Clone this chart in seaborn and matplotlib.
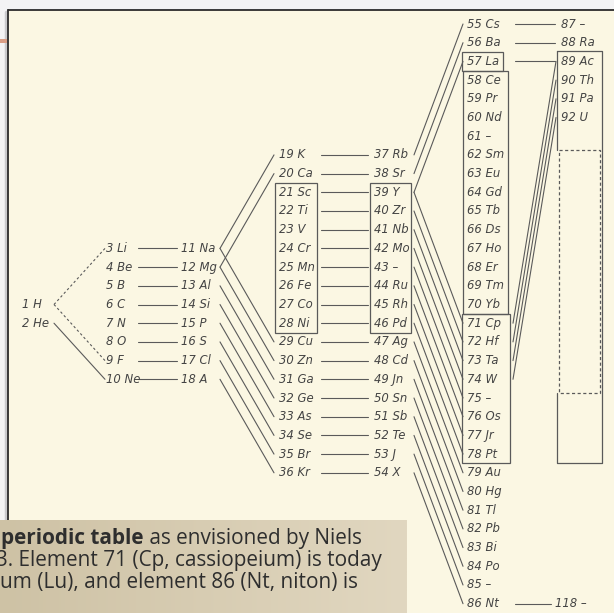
import numpy as np
import pandas as pd
import matplotlib
matplotlib.use("Agg")
import matplotlib.pyplot as plt
import seaborn as sns
from matplotlib.patches import Rectangle

# ---------------- data ----------------
col0 = ["1 H", "2 He"]
col1 = ["3 Li", "4 Be", "5 B", "6 C", "7 N", "8 O", "9 F", "10 Ne"]
col2 = ["11 Na", "12 Mg", "13 Al", "14 Si", "15 P", "16 S", "17 Cl", "18 A"]
col3 = ["19 K", "20 Ca", "21 Sc", "22 Ti", "23 V", "24 Cr", "25 Mn", "26 Fe", "27 Co",
        "28 Ni", "29 Cu", "30 Zn", "31 Ga", "32 Ge", "33 As", "34 Se", "35 Br", "36 Kr"]
col4 = ["37 Rb", "38 Sr", "39 Y", "40 Zr", "41 Nb", "42 Mo", "43 –", "44 Ru", "45 Rh",
        "46 Pd", "47 Ag", "48 Cd", "49 Jn", "50 Sn", "51 Sb", "52 Te", "53 J", "54 X"]
col5 = ["55 Cs", "56 Ba", "57 La", "58 Ce", "59 Pr", "60 Nd", "61 –", "62 Sm", "63 Eu",
        "64 Gd", "65 Tb", "66 Ds", "67 Ho", "68 Er", "69 Tm", "70 Yb", "71 Cp", "72 Hf",
        "73 Ta", "74 W", "75 –", "76 Os", "77 Jr", "78 Pt", "79 Au", "80 Hg", "81 Tl",
        "82 Pb", "83 Bi", "84 Po", "85 –", "86 Nt"]
col6 = ["87 –", "88 Ra", "89 Ac", "90 Th", "91 Pa", "92 U"]
extra_label = "118 –"

dashed_links = [(1, 3), (1, 9)]
solid_links = ([(2, 10)] + [(z, z + 8) for z in range(3, 11)]
               + [(11, 19), (12, 20), (11, 29), (12, 30)] + [(z, z + 18) for z in range(13, 19)]
               + [(z, z + 18) for z in range(19, 37)]
               + [(37, 55), (38, 56), (39, 57), (39, 71)] + [(z, z + 32) for z in range(40, 55)]
               + [(55, 87), (56, 88), (57, 89), (86, 118)]
               + [(89, 71), (90, 72), (91, 73), (92, 74)])

caption_bold = "periodic table"
caption_line1 = " as envisioned by Niels"
caption_line2 = "3. Element 71 (Cp, cassiopeium) is today"
caption_line3 = "um (Lu), and element 86 (Nt, niton) is"

# ---------------- layout ----------------
W, H = 614, 613
columns = [col0, col1, col2, col3, col4, col5, col6]
start_rows = [15, 12, 12, 7, 7, 0, 0]
col_x = [22, 106, 181, 279, 374, 467, 561]
Y0, DY = 24.0, 18.7


def row_y(r):
    return Y0 + DY * r


pos = {}
labels = {}
for c, (lst, r0) in enumerate(zip(columns, start_rows)):
    for i, lab in enumerate(lst):
        z = int(lab.split()[0])
        pos[z] = (c, r0 + i)
        labels[z] = lab
pos[118] = (6, 31)
labels[118] = extra_label

gap_x = {(0, 1): (54, 105), (1, 2): (138, 177), (2, 3): (220, 274), (3, 4): (321, 368),
         (4, 5): (414, 463), (5, 6): (515, 555), (6, 5): (556, 513)}


def seg_frame(links):
    rows = []
    for k, (a, b) in enumerate(links):
        ca, ra = pos[a]
        cb, rb = pos[b]
        x1, x2 = gap_x[(ca, cb)]
        if b == 118:
            x2 = 551
        rows.append({"seg": k, "x": x1, "y": row_y(ra)})
        rows.append({"seg": k, "x": x2, "y": row_y(rb)})
    return pd.DataFrame(rows)


sns.set_theme(style="white")
fig = plt.figure(figsize=(W / 100, H / 100), dpi=100)
fig.patch.set_facecolor("#f3f3f4")
ax = fig.add_axes([0, 0, 1, 1])
ax.set_facecolor("#f3f3f4")

# panel
ax.add_patch(Rectangle((8, 10), W, H, facecolor="#fbf7e3", edgecolor="none", zorder=0))
ax.plot([8, W], [10, 10], color="#2b2b2b", lw=1.3, zorder=1)
ax.plot([8, 8], [10, 520], color="#2b2b2b", lw=1.3, zorder=1)
ax.plot([5.5, 5.5], [12, 520], color="#c9c9cc", lw=2.5, zorder=0.5)
ax.add_patch(Rectangle((0, 39), 7, 4, facecolor="#d99e86", edgecolor="none", zorder=1))

ink = "#444444"
lk = dict(estimator=None, sort=False, legend=False, color="#5a5a5a", linewidth=0.8, ax=ax)
sns.lineplot(data=seg_frame(solid_links), x="x", y="y", units="seg", **lk)
sns.lineplot(data=seg_frame(dashed_links), x="x", y="y", units="seg", linestyle=(0, (2.2, 2.2)), **lk)

# labels
for z, lab in labels.items():
    c, r = pos[z]
    x = col_x[c] if z != 118 else 555
    ax.text(x, row_y(r), lab, fontsize=8.4, style="italic", color=ink,
            va="center", ha="left", family="DejaVu Sans", zorder=3)

# boxes
box_kw = dict(facecolor="none", edgecolor="#5a5a5a", lw=0.9, zorder=2)


def add_box(x0, x1, r0, r1, **kw):
    y0, y1 = row_y(r0) - 9.3, row_y(r1) + 9.3
    ax.add_patch(Rectangle((x0, y0), x1 - x0, y1 - y0, **kw))


add_box(275, 317, 9, 16, **box_kw)
add_box(370, 411, 9, 16, **box_kw)
add_box(462, 503, 2, 2, **box_kw)
add_box(463, 508, 3, 15, **box_kw)
add_box(462, 510, 16, 23, **box_kw)
# actinide column box
top6, bot6 = row_y(2) - 10, row_y(23) + 9.3
dtop, dbot = row_y(6.75), row_y(19.75)
ax.plot([557, 602, 602, 557, 557], [top6, top6, bot6, bot6, dbot], color="#5a5a5a", lw=0.9, zorder=2)
ax.plot([557, 557], [top6, dtop], color="#5a5a5a", lw=0.9, zorder=2)
ax.add_patch(Rectangle((558.5, dtop), 41, dbot - dtop, facecolor="none", edgecolor="#5a5a5a",
                       lw=0.9, linestyle=(0, (2.5, 2.0)), zorder=2))

# caption box with gradient
grad = np.linspace(0, 1, 200)[None, :, None]
left_c = np.array([206, 194, 165]) / 255
right_c = np.array([225, 215, 192]) / 255
img = left_c + (right_c - left_c) * grad
img = np.repeat(img, 10, axis=0)
ax.imshow(img, extent=[0, 407, 613, 520], aspect="auto", zorder=4)

ax.set_xlim(0, W)
ax.set_ylim(H, 0)
ax.axis("off")

renderer = fig.canvas.get_renderer()
cap_kw = dict(color="#2e2e2e", family="Open Sans", va="baseline", zorder=5)
# fit caption size so that line 2 spans to x~400
probe = ax.text(-4, 567, caption_line2, fontsize=12, **cap_kw)
w12 = probe.get_window_extent(renderer=renderer).width
probe.remove()
fs = 12 * 404 / w12 * 0.95

t1 = ax.text(1, 544, caption_bold, fontweight="bold", fontsize=fs, **cap_kw)
bb = t1.get_window_extent(renderer=renderer)
x_next = ax.transData.inverted().transform((bb.x1, bb.y0))[0]
ax.text(x_next, 544, caption_line1, fontsize=fs, **cap_kw)
ax.text(-4, 566, caption_line2, fontsize=fs, **cap_kw)
ax.text(0, 588, caption_line3, fontsize=fs, **cap_kw)

fig.savefig("out.png", dpi=100)
